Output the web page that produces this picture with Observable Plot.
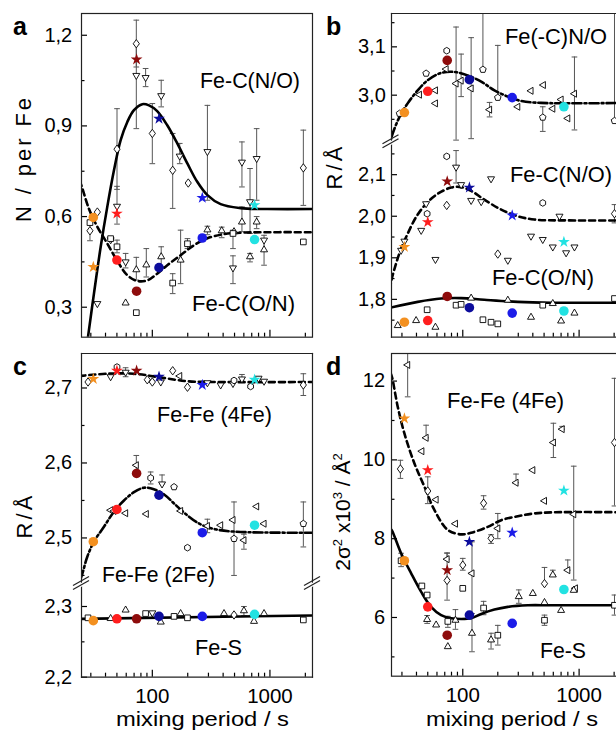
<!DOCTYPE html>
<html>
<head>
<meta charset="utf-8">
<script src="https://cdn.jsdelivr.net/npm/d3@7"></script>
<script src="https://cdn.jsdelivr.net/npm/@observablehq/plot@0.6"></script>
<style>
html,body{margin:0;padding:0;background:#fff;}
#fig{position:relative;width:616px;height:731px;overflow:hidden;background:#fff;}
</style>
</head>
<body>
<div id="fig"></div>
<script>
const FONT = '"Liberation Sans", Arial, Helvetica, sans-serif';

// ---------- shared ----------
const sampleTimes = [31.5, 50, 73.5, 114, 266, 740];
const sampleColors = ["#f39020", "#ff1e1e", "#8e0c0c", "#0c0c9c", "#1c1ce8", "#22e2e2"];
const xTickMajor = [100, 1000];
const xTickMinor = [30, 40, 50, 60, 70, 80, 90, 200, 300, 400, 500, 600, 700, 800, 900, 2000];

// ---------- panel a : N / per Fe ----------
const aYMajor = [0.3, 0.6, 0.9, 1.2];
const aYMinor = [0.45, 0.75, 1.05];
const aFitNO_t = [27.3, 28.4, 31.9, 36.4, 41.4, 47.2, 53.8, 61.3, 69.8, 82.2, 93.7, 110, 134, 163, 199, 241, 294, 381, 564, 951, 2600];
const aFitNO_v = [0.15, 0.202, 0.345, 0.5, 0.632, 0.753, 0.853, 0.913, 0.952, 0.972, 0.968, 0.949, 0.902, 0.842, 0.775, 0.715, 0.671, 0.641, 0.628, 0.625, 0.625];
const aFitON_t = [24, 25.1, 28.9, 34.1, 41.4, 50.4, 61.3, 74.5, 90.6, 110, 134, 174, 226, 294, 407, 601, 2600];
const aFitON_v = [0.72, 0.700, 0.626, 0.566, 0.511, 0.453, 0.406, 0.387, 0.389, 0.411, 0.439, 0.472, 0.505, 0.528, 0.542, 0.547, 0.548];
const aCircle = [0.597, 0.456, 0.353, 0.431, 0.529, 0.524];
const aStar = [0.433, 0.61, 1.12, 0.924, 0.662, 0.638];
const aDiamond = [[29.5, 0.553, 0.52, 0.585], [34.1, 0.615], [50.1, 0.823, 0.69, 0.957], [73.1, 1.172, 1.095, 1.25], [100, 0.875, 0.775, 0.974], [149, 0.753, 0.627, 0.875], [202, 0.711], [1923, 0.761, 0.637, 0.886]];
const aDownTri = [[34.1, 0.312], [44.2, 0.523], [50.1, 0.634, 0.575, 0.70], [59.3, 0.45, 0.43, 0.478], [73.1, 1.067, 0.891, 1.17], [87.7, 1.06, 1.03, 1.09], [119, 1.0, 0.963, 1.051], [171, 0.80, 0.775, 0.842], [294, 0.815, 0.654, 0.968], [485, 0.43, 0.378, 0.47], [578, 0.78, 0.698, 0.847], [677, 0.649, 0.544, 0.759], [771, 0.792, 0.654, 0.891], [891, 0.522]];
const aUpTri = [[59.3, 0.314], [73.1, 0.424, 0.39, 0.465], [88.9, 0.44, 0.40, 0.494], [119, 0.467, 0.434, 0.50], [174, 0.456, 0.378, 0.555], [294, 0.556, 0.54, 0.568], [389, 0.553, 0.53, 0.565], [495, 0.55], [578, 0.582, 0.55, 0.632], [677, 0.467, 0.45, 0.478], [771, 0.582, 0.56, 0.60], [891, 0.49, 0.439, 0.538]];
const aSquare = [[29.5, 0.58], [44.2, 0.527], [50.1, 0.50, 0.48, 0.522], [73.1, 0.282], [149, 0.38, 0.345, 0.411], [199, 0.51, 0.494, 0.527], [485, 0.544, 0.494, 0.555], [1923, 0.516]];

// ---------- panel b : R / Å (Fe-C, Fe(-C)N/O) ----------
const bUpYMajor = [3.0, 3.1];
const bUpYMinor = [2.95, 3.05, 3.15];
const bLowYMajor = [1.8, 1.9, 2.0, 2.1];
const bLowYMinor = [1.75, 1.85, 1.95, 2.05, 2.15];
const bFitNO2_t = [23, 24.2, 28.6, 33.6, 41.0, 50.0, 65.1, 84.8, 110, 144, 187, 244, 317, 471, 2600];
const bFitNO2_v = [2.88, 2.910, 2.955, 2.983, 3.010, 3.031, 3.046, 3.048, 3.041, 3.028, 3.010, 2.997, 2.988, 2.984, 2.984];
const bFitNO_t = [23, 24.2, 26.7, 29.5, 33.6, 39.7, 48.4, 60.9, 79.4, 96.8, 118, 153, 214, 297, 413, 799, 2600];
const bFitNO_v = [1.80, 1.842, 1.886, 1.922, 1.958, 1.998, 2.030, 2.054, 2.069, 2.070, 2.061, 2.040, 2.016, 2.000, 1.992, 1.990, 1.990];
const bFitON_t = [23, 41.0, 65.1, 96.8, 153, 297, 574, 2600];
const bFitON_v = [1.779, 1.794, 1.802, 1.803, 1.799, 1.794, 1.792, 1.792];
const bCircleUp = [2.964, 3.008, 3.072, 3.032, 2.995, 2.976];
const bStarLow = [1.926, 1.986, 2.084, 2.069, 2.002, 1.938];
const bCircleLow = [1.745, 1.749, 1.807, 1.780, 1.767, 1.772];
const bPentUp = [[28.6, 2.962], [48.4, 3.045], [149, 3.053, 3.053, 3.25], [200, 2.995, 2.995, 3.103], [487, 2.954, 2.925, 2.976], [2014, 2.947, 2.947, 3.25]];
const bHexUp = [[72.8, 3.092]];
const bLeftUp = [[42.4, 3.001], [58.2, 3.010], [58.2, 2.983], [71.9, 3.054], [87.6, 3.024, 2.907, 3.141], [96.8, 3.03, 2.997, 3.085], [118, 3.014, 2.910, 3.119], [170, 2.970, 2.955, 2.985], [297, 2.976], [386, 3.009], [493, 3.021], [594, 2.972], [700, 2.991], [799, 2.952], [912, 3.003, 2.928, 3.079]];
const bDownLow = [[29.5, 1.918], [31.5, 1.94], [43.9, 1.966], [48.4, 2.030], [58.2, 1.896], [87.6, 2.118, 2.08, 2.158], [96.8, 2.076], [118, 2.038], [144, 2.035], [175, 2.090], [244, 1.894], [386, 1.952], [487, 1.944], [594, 1.926], [678, 2.0], [773, 1.912], [912, 1.926]];
const bHexLow = [[49.4, 2.006], [72.8, 2.144], [487, 2.032]];
const bDiamLow = [[72.8, 2.026], [200, 1.909], [2014, 2.006, 1.984, 2.028]];
const bUpLow = [[27.6, 1.737], [39.7, 1.749], [58.2, 1.733], [118, 1.803], [244, 1.798], [386, 1.757], [594, 1.790], [700, 1.748], [912, 1.767]];
const bSqLow = [[49.4, 1.775], [87.6, 1.786], [96.8, 1.788], [149, 1.751], [175, 1.745], [200, 1.741], [487, 1.786], [2014, 1.802]];

// ---------- panel c : R / Å (Fe-Fe, Fe-S) ----------
const cUpYMajor = [2.5, 2.6, 2.7];
const cUpYMinor = [2.45, 2.55, 2.65];
const cLowYMajor = [2.2, 2.3];
const cLowYMinor = [2.25];
const cFit4_t = [24, 41.4, 69.8, 118, 199, 334, 2600];
const cFit4_v = [2.716, 2.719, 2.719, 2.714, 2.709, 2.708, 2.708];
const cFit2_t = [24.5, 25.4, 28.0, 31.9, 38.8, 47.2, 57.4, 69.8, 84.9, 103, 126, 153, 199, 258, 357, 564, 2600];
const cFit2_v = [2.445, 2.452, 2.475, 2.495, 2.515, 2.535, 2.550, 2.561, 2.567, 2.565, 2.558, 2.546, 2.530, 2.518, 2.511, 2.508, 2.507];
const cFitS_t = [24, 2600];
const cFitS_v = [2.2825, 2.2875];
const cStar4 = [2.712, 2.723, 2.723, 2.715, 2.704, 2.711];
const cCircle2 = [2.495, 2.538, 2.586, 2.557, 2.507, 2.517];
const cCircleS = [2.280, 2.2826, 2.2826, 2.286, 2.286, 2.289];
const cDiam4 = [[28.4, 2.708], [90.6, 2.711], [100, 2.708], [149, 2.723], [199, 2.701], [1923, 2.704, 2.690, 2.719]];
const cDown4 = [[44.2, 2.715], [59.3, 2.721, 2.715, 2.727], [118, 2.708], [294, 2.707], [381, 2.704], [485, 2.706], [578, 2.712, 2.708, 2.718], [800, 2.713], [891, 2.709]];
const cHex4 = [[50.1, 2.728], [495, 2.710], [685, 2.702]];
const cLeft4 = [[171, 2.716]];
const cLeft2 = [[44.2, 2.537], [47.2, 2.536], [59.3, 2.533], [73.1, 2.597, 2.585, 2.610], [88.9, 2.532], [174, 2.536], [294, 2.516, 2.507, 2.525], [381, 2.517], [485, 2.524], [601, 2.497, 2.485, 2.505], [771, 2.542], [891, 2.519]];
const cHex2 = [[96.8, 2.580, 2.572, 2.588], [199, 2.487]];
const cDown2 = [[121, 2.572, 2.572, 2.584]];
const cPent2 = [[153, 2.568], [495, 2.499, 2.45, 2.548], [1923, 2.519, 2.488, 2.548]];
const cSqS = [[28.4, 2.284], [87.7, 2.290], [153, 2.286], [199, 2.284], [1923, 2.281]];
const cUpS = [[44.2, 2.283], [59.3, 2.295], [118, 2.278], [174, 2.290], [407, 2.290], [601, 2.294, 2.287, 2.300], [732, 2.279], [891, 2.290]];
const cDownS = [[100, 2.291]];
const cDiamS = [[495, 2.288]];

// ---------- panel d : 2σ² x10³ / Å² ----------
const dYMajor = [6, 8, 10, 12];
const dYMinor = [5, 7, 9, 11];
const dFit4_t = [24, 24.7, 27.6, 31.5, 38.4, 46.8, 57.0, 74.4, 96.8, 118, 164, 214, 297, 413, 614, 2600];
const dFit4_v = [12.2, 12.09, 11.35, 10.67, 9.91, 9.32, 8.73, 8.22, 8.11, 8.15, 8.30, 8.47, 8.57, 8.64, 8.67, 8.67];
const dFitS_t = [24, 24.7, 29.5, 36.0, 43.9, 53.4, 65.1, 79.4, 96.8, 118, 144, 187, 244, 362, 574, 2600];
const dFitS_v = [8.25, 8.20, 7.63, 7.12, 6.65, 6.27, 6.06, 5.98, 5.96, 5.98, 6.09, 6.20, 6.27, 6.31, 6.31, 6.31];
const dStar = [11.05, 9.74, 7.20, 7.92, 8.15, 9.22];
const dCircle = [7.44, 6.27, 5.55, 6.06, 5.85, 6.71];
const dDiam = [[29.1, 9.77, 9.53, 9.99], [50.0, 9.21, 8.89, 9.57], [73.3, 6.94, 6.44, 7.63], [100, 7.33, 7.20, 7.50], [151, 8.90, 8.75, 9.09], [175, 8.01, 7.88, 8.10], [504, 6.86, 6.86, 7.27], [2014, 10.44, 8.83, 12.07]];
const dLeft = [[33.6, 12.41, 11.60, 12.70], [44.5, 10.22], [48.4, 10.56, 10.56, 10.88], [59.0, 8.99], [73.3, 7.48, 7.48, 7.64], [86.5, 8.38], [120, 7.12, 6.1, 7.92], [200, 8.26, 8.0, 8.64], [287, 9.42, 9.42, 9.64], [400, 9.74], [504, 8.96], [601, 10.44, 10.06, 10.93], [715, 10.78, 10.78, 10.85], [799, 7.20, 7.20, 7.46], [899, 8.62, 6.95, 9.84], [929, 6.74]];
const dSq = [[29.5, 7.44, 7.29, 7.63], [44.5, 6.80], [49.4, 6.57], [74.4, 5.9, 5.75, 6.03], [100, 6.74], [151, 6.24, 6.07, 6.41], [200, 5.55, 5.30, 5.80], [504, 5.93, 5.80, 6.06], [2014, 6.31, 6.06, 6.57]];
const dUp = [[49.4, 5.95, 5.85, 6.05], [59.0, 5.81], [74.4, 5.26], [86.5, 5.93, 5.70, 6.20], [120, 5.60, 5.13, 6.0], [175, 5.43, 5.20, 5.60], [303, 6.53, 6.36, 6.70], [400, 6.61], [504, 6.38], [594, 7.08, 7.08, 7.20], [700, 6.18], [899, 6.69]];

// ---------- symbols ----------
function polySym(n, rot, sx = 1, sy = 1) {
  const k = 0.5 * n * Math.sin(2 * Math.PI / n);
  return {draw(ctx, size) {
    const r = Math.sqrt(size / k);
    for (let i = 0; i < n; i++) {
      const a = rot + 2 * Math.PI * i / n;
      const x = sx * r * Math.sin(a), y = -sy * r * Math.cos(a);
      if (i) ctx.lineTo(x, y); else ctx.moveTo(x, y);
    }
    ctx.closePath();
  }};
}
const SYM = {
  down: polySym(3, Math.PI), up: polySym(3, 0), left: polySym(3, -Math.PI / 2),
  square: polySym(4, Math.PI / 4), diamond: polySym(4, 0, 0.85, 1.15),
  pent: polySym(5, 0), hex: polySym(6, 0),
  cap: {draw(ctx, size) { const w = Math.sqrt(size) * 0.5; ctx.moveTo(-w, 0); ctx.lineTo(w, 0); }}
};
const SYM_R = {down: 2.6, up: 2.6, left: 2.6, square: 3.2, diamond: 2.9, pent: 3.0, hex: 3.0};

const fig = document.getElementById("fig");
const fmt1 = d => d.toFixed(1).replace(".", ",");

function panel(cfg) {
  const ml = 70, mr = 12, mt = 12, mb = 45;
  const marks = [];
  const open = cfg.open || [];
  for (const s of open) {
    const b = s.data.filter(d => d.length > 2).map(([t, v, lo, hi]) => ({t, lo, hi}));
    if (!b.length) continue;
    marks.push(
      Plot.ruleX(b, {x: "t", y1: "lo", y2: "hi", stroke: "#555", strokeWidth: 1, clip: true}),
      Plot.dot(b, {x: "t", y: "lo", symbol: SYM.cap, r: 3.2, stroke: "#555", strokeWidth: 1, clip: true}),
      Plot.dot(b, {x: "t", y: "hi", symbol: SYM.cap, r: 3.2, stroke: "#555", strokeWidth: 1, clip: true})
    );
  }
  for (const c of cfg.curves || []) {
    marks.push(Plot.line(c.t.map((t, i) => ({t, v: c.v[i]})), {
      x: "t", y: "v", curve: "catmull-rom", stroke: "#000", strokeWidth: 2.6,
      strokeDasharray: c.dash, clip: true
    }));
  }
  for (const s of open) {
    marks.push(Plot.dot(s.data.map(([t, v]) => ({t, v})), {
      x: "t", y: "v", symbol: SYM[s.sym], r: SYM_R[s.sym], stroke: "#000", strokeWidth: 0.9, fill: "#fff", clip: true
    }));
  }
  for (const c of cfg.colored || []) {
    marks.push(Plot.dot(c.v.map((v, i) => ({t: sampleTimes[i], v, c: sampleColors[i]})), {
      x: "t", y: "v", symbol: c.sym, r: c.sym === "star" ? 3.7 : 4.8, fill: "c", clip: true
    }));
  }
  marks.push(
    Plot.axisY(cfg.yMajor, {anchor: "left", tickSize: -6, tickFormat: () => "", strokeWidth: 1.2}),
    Plot.axisY(cfg.yMinor, {anchor: "left", tickSize: -3.5, tickFormat: () => "", strokeWidth: 1.2}),
    Plot.axisY(cfg.yMajor, {anchor: "left", tickSize: 0, tickPadding: cfg.gap, tickFormat: cfg.fmt, fontSize: 20})
  );
  if (cfg.xAxis) {
    marks.push(
      Plot.axisX(xTickMajor, {anchor: "bottom", tickSize: -7, tickFormat: () => "", strokeWidth: 1.2}),
      Plot.axisX(xTickMinor, {anchor: "bottom", tickSize: -4, tickFormat: () => "", strokeWidth: 1.2})
    );
    if (cfg.xLabels) marks.push(Plot.axisX(xTickMajor, {anchor: "bottom", tickSize: 0, tickPadding: 11.5, tickFormat: d => String(d), fontSize: 20.5}));
  }
  for (const side of cfg.sides) {
    marks.push(side === "all" ? Plot.frame({stroke: "#222", strokeWidth: 1.2}) : Plot.frame({anchor: side, stroke: "#222", strokeWidth: 1.2}));
  }
  const xOpt = {type: "log", domain: cfg.xDomain, label: null};
  if (!cfg.xAxis) xOpt.axis = null;
  const svg = Plot.plot({
    width: ml + cfg.w + mr, height: mt + cfg.h + mb,
    marginLeft: ml, marginRight: mr, marginTop: mt, marginBottom: mb,
    x: xOpt,
    y: {domain: cfg.yDomain, label: null},
    color: {type: "identity"},
    style: {fontFamily: FONT, fontSize: "20px", background: "transparent", overflow: "visible",
            position: "absolute", left: (cfg.left - ml) + "px", top: (cfg.top - mt) + "px", maxWidth: "none"},
    marks
  });
  fig.append(svg);
}

const XD_AC = [25, 2300];
const XD_BD = [24.4, 2360];

// panel a
panel({
  left: 81, top: 13.3, w: 231, h: 323.7, xDomain: XD_AC, yDomain: [0.2008, 1.272],
  yMajor: aYMajor, yMinor: aYMinor, fmt: fmt1, gap: 9.3, xAxis: true, xLabels: false, sides: ["all"],
  curves: [{t: aFitNO_t, v: aFitNO_v}, {t: aFitON_t, v: aFitON_v, dash: "6,4"}],
  open: [{data: aDiamond, sym: "diamond"}, {data: aDownTri, sym: "down"}, {data: aUpTri, sym: "up"}, {data: aSquare, sym: "square"}],
  colored: [{v: aCircle, sym: "circle"}, {v: aStar, sym: "star"}]
});

// panel b (upper / lower part of a broken axis)
panel({
  left: 390.5, top: 13.3, w: 231, h: 130, xDomain: XD_BD, yDomain: [2.90, 3.169],
  yMajor: bUpYMajor, yMinor: bUpYMinor, fmt: fmt1, gap: 5.7, xAxis: false, sides: ["left", "top", "right"],
  curves: [{t: bFitNO2_t, v: bFitNO2_v, dash: "9,3,2,3"}],
  open: [{data: bPentUp, sym: "pent"}, {data: bHexUp, sym: "hex"}, {data: bLeftUp, sym: "left"}],
  colored: [{v: bCircleUp, sym: "circle"}]
});
panel({
  left: 390.5, top: 143.3, w: 231, h: 193.7, xDomain: XD_BD, yDomain: [1.709, 2.175],
  yMajor: bLowYMajor, yMinor: bLowYMinor, fmt: fmt1, gap: 5.7, xAxis: true, xLabels: false, sides: ["left", "bottom", "right"],
  curves: [{t: bFitNO_t, v: bFitNO_v, dash: "6,4"}, {t: bFitON_t, v: bFitON_v}],
  open: [{data: bDownLow, sym: "down"}, {data: bHexLow, sym: "hex"}, {data: bDiamLow, sym: "diamond"}, {data: bUpLow, sym: "up"}, {data: bSqLow, sym: "square"}],
  colored: [{v: bStarLow, sym: "star"}, {v: bCircleLow, sym: "circle"}]
});

// panel c (broken axis)
panel({
  left: 81, top: 353.3, w: 231, h: 231.7, xDomain: XD_AC, yDomain: [2.437, 2.746],
  yMajor: cUpYMajor, yMinor: cUpYMinor, fmt: fmt1, gap: 9.3, xAxis: false, sides: ["left", "top", "right"],
  curves: [{t: cFit4_t, v: cFit4_v, dash: "6,4"}, {t: cFit2_t, v: cFit2_v, dash: "9,3,2,3"}],
  open: [{data: cDiam4, sym: "diamond"}, {data: cDown4, sym: "down"}, {data: cHex4, sym: "hex"}, {data: cLeft4, sym: "left"},
         {data: cLeft2, sym: "left"}, {data: cHex2, sym: "hex"}, {data: cDown2, sym: "down"}, {data: cPent2, sym: "pent"}],
  colored: [{v: cStar4, sym: "star"}, {v: cCircle2, sym: "circle"}]
});
panel({
  left: 81, top: 585, w: 231, h: 91.7, xDomain: XD_AC, yDomain: [2.2, 2.3297],
  yMajor: cLowYMajor, yMinor: cLowYMinor, fmt: fmt1, gap: 9.3, xAxis: true, xLabels: true, sides: ["left", "bottom", "right"],
  curves: [{t: cFitS_t, v: cFitS_v}],
  open: [{data: cSqS, sym: "square"}, {data: cUpS, sym: "up"}, {data: cDownS, sym: "down"}, {data: cDiamS, sym: "diamond"}],
  colored: [{v: cCircleS, sym: "circle"}]
});

// panel d
panel({
  left: 390.5, top: 353.3, w: 231, h: 322.7, xDomain: XD_BD, yDomain: [4.51, 12.70],
  yMajor: dYMajor, yMinor: dYMinor, fmt: d => String(d), gap: 6.5, xAxis: true, xLabels: true, sides: ["all"],
  curves: [{t: dFit4_t, v: dFit4_v, dash: "6,4"}, {t: dFitS_t, v: dFitS_v}],
  open: [{data: dDiam, sym: "diamond"}, {data: dLeft, sym: "left"}, {data: dSq, sym: "square"}, {data: dUp, sym: "up"}],
  colored: [{v: dStar, sym: "star"}, {v: dCircle, sym: "circle"}]
});

// ---------- overlay: panel letters, annotations, axis titles, axis breaks ----------
const ov = d3.select(fig).append("svg")
  .attr("width", 616).attr("height", 731)
  .style("position", "absolute").style("left", "0px").style("top", "0px")
  .style("font-family", FONT).style("white-space", "pre").style("overflow", "visible");

const letters = [["a", 13, 35], ["b", 326, 35], ["c", 13, 375], ["d", 326, 375]];
for (const [t, x, y] of letters) ov.append("text").attr("x", x).attr("y", y).attr("font-size", 25).attr("font-weight", "bold").text(t);

const notes = [
  ["Fe-C(N/O)", 200, 88.3, 100, 21.5], ["Fe-C(O/N)", 192, 311, 103, 21.5],
  ["Fe(-C)N/O", 505, 43.5, 102, 21.5], ["Fe-C(N/O)", 510, 182, 102, 21.5], ["Fe-C(O/N)", 492, 284.5, 102, 21.5],
  ["Fe-Fe (4Fe)", 157, 422, 115, 21.5], ["Fe-Fe (2Fe)", 102, 581.7, 113, 21.5], ["Fe-S", 195, 655, 47, 21.5],
  ["Fe-Fe (4Fe)", 447, 408.3, 117, 21.5], ["Fe-S", 540, 658.3, 46, 21.5],
  ["mixing period / s", 116, 726, 173, 19.5], ["mixing period / s", 426, 726, 172, 19.5]
];
for (const [t, x, y, len, fs] of notes) {
  ov.append("text").attr("x", x).attr("y", y).attr("font-size", fs)
    .attr("textLength", len).attr("lengthAdjust", "spacingAndGlyphs").text(t);
}

const ytitles = [["N / per Fe", 31, 160, 124], ["R / Å", 342, 168, 43], ["R / Å", 32, 517, 43]];
for (const [t, x, y, len] of ytitles) {
  ov.append("text").attr("transform", `translate(${x},${y}) rotate(-90)`).attr("text-anchor", "middle")
    .attr("font-size", 22).attr("textLength", len).attr("lengthAdjust", "spacing").text(t);
}
{
  const t = ov.append("text").attr("transform", "translate(350,512) rotate(-90)").attr("text-anchor", "middle").attr("font-size", 21);
  t.append("tspan").text("2σ");
  t.append("tspan").attr("dy", -8).attr("font-size", 13).text("2");
  t.append("tspan").attr("dy", 8).text(" x10");
  t.append("tspan").attr("dy", -8).attr("font-size", 13).text("3");
  t.append("tspan").attr("dy", 8).text(" / Å");
  t.append("tspan").attr("dy", -8).attr("font-size", 13).text("2");
}

const breaks = [[390.5, 143.3], [81, 585], [312, 585]];
for (const [x, y] of breaks) {
  ov.append("path").attr("d", `M${x - 8},${y + 2.5}L${x + 8},${y - 6.5}L${x + 8},${y - 2.5}L${x - 8},${y + 6.5}Z`).attr("fill", "#fff");
  for (const o of [-2, 2]) {
    ov.append("line").attr("x1", x - 8).attr("y1", y + 4.5 + o - 2).attr("x2", x + 8).attr("y2", y - 4.5 + o - 2)
      .attr("stroke", "#222").attr("stroke-width", 1.2);
  }
}
</script>
</body>
</html>
